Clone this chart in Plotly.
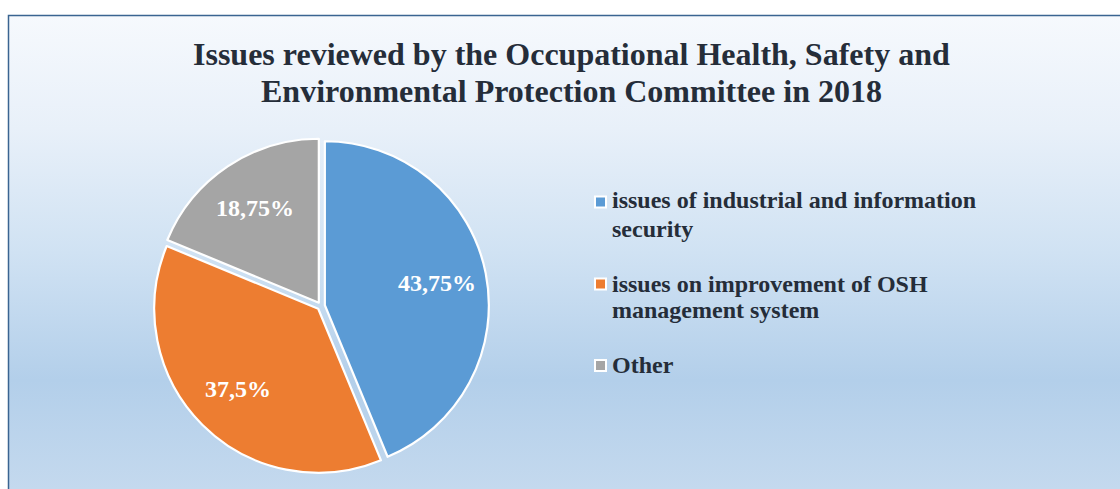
import base64
import math
import plotly.graph_objects as go

# ---------------- data ----------------
categories = [
    "issues of industrial and information security",
    "issues on improvement of OSH management system",
    "Other",
]
legend_lines = [
    ["issues of industrial and information", "security"],
    ["issues on improvement of OSH", "management system"],
    ["Other"],
]
values = [43.75, 37.5, 18.75]
colors = ["#5B9BD5", "#ED7D31", "#A5A5A5"]
title_lines = [
    "Issues reviewed by the Occupational Health, Safety and",
    "Environmental Protection Committee in 2018",
]

W, H = 1120, 489
TXT = "#252D39"
FONT = "Liberation Serif"


def px(x):
    return x / W


def py(y):
    return 1 - y / H


# pie geometry (pixels)
cx, cy, R = 321, 306, 164
pull = 0.024
half = R * (1 + pull)

fig = go.Figure()
fig.add_trace(
    go.Pie(
        labels=categories,
        values=values,
        sort=False,
        direction="clockwise",
        rotation=0,
        pull=pull,
        marker=dict(colors=colors, line=dict(color="white", width=2.2)),
        textinfo="none",
        hoverinfo="label+percent",
        showlegend=False,
        domain=dict(x=[px(cx - half), px(cx + half)], y=[py(cy + half), py(cy - half)]),
    )
)

# background gradient (Excel-like light gradient)
svg = (
    '<svg xmlns="http://www.w3.org/2000/svg" width="100" height="100" preserveAspectRatio="none">'
    '<defs><linearGradient id="g" x1="0" y1="0" x2="0" y2="1">'
    '<stop offset="0" stop-color="#F6F9FD"/>'
    '<stop offset="0.24" stop-color="#E8F0F9"/>'
    '<stop offset="0.50" stop-color="#D0E2F3"/>'
    '<stop offset="0.77" stop-color="#B3CFEA"/>'
    '<stop offset="1" stop-color="#C4D9EE"/>'
    '</linearGradient></defs>'
    '<rect x="0" y="0" width="100" height="100" fill="url(#g)"/></svg>'
)
src = "data:image/svg+xml;base64," + base64.b64encode(svg.encode()).decode()
fig.add_layout_image(
    dict(
        source=src,
        xref="paper",
        yref="paper",
        x=px(8.5),
        y=py(15.5),
        sizex=px(W + 20) - px(8.5),
        sizey=py(15.5) - py(H),
        sizing="stretch",
        xanchor="left",
        yanchor="top",
        layer="below",
    )
)

shapes = [
    dict(
        type="rect",
        xref="paper",
        yref="paper",
        x0=px(8.5),
        y0=py(15.5),
        x1=px(W + 20),
        y1=py(H + 20),
        line=dict(color="#3A6491", width=1.5),
        fillcolor="rgba(0,0,0,0)",
        layer="below",
    )
]

annotations = []
# title
for yy, line in zip([54.2, 90.9], title_lines):
    annotations.append(
        dict(
            text=f"<b>{line}</b>",
            x=px(571),
            y=py(yy),
            xref="paper",
            yref="paper",
            xanchor="center",
            yanchor="middle",
            showarrow=False,
            font=dict(family=FONT, size=32, color=TXT),
        )
    )

# data labels inside slices
total = sum(values)
cum = 0.0
label_r = 118
for v in values:
    mid = (cum + v / 2) / total * 2 * math.pi
    cum += v
    lx = cx + label_r * math.sin(mid)
    ly = cy - label_r * math.cos(mid)
    txt = f"{v:g}".replace(".", ",") + "%"
    annotations.append(
        dict(
            text=f"<b>{txt}</b>",
            x=px(lx),
            y=py(ly),
            xref="paper",
            yref="paper",
            xanchor="center",
            yanchor="middle",
            showarrow=False,
            font=dict(family=FONT, size=24, color="white"),
        )
    )

# legend (manual)
marker_centers = [202, 284, 365.5]
line_centers = [[200, 228.6], [283.6, 310.2], [365.2]]
for col, mc, lines, lcs in zip(colors, marker_centers, legend_lines, line_centers):
    shapes.append(
        dict(
            type="rect",
            xref="paper",
            yref="paper",
            x0=px(595),
            x1=px(606),
            y0=py(mc + 5.5),
            y1=py(mc - 5.5),
            fillcolor=col,
            line=dict(color="white", width=2),
        )
    )
    for t, yy in zip(lines, lcs):
        annotations.append(
            dict(
                text=f"<b>{t}</b>",
                x=px(610),
                y=py(yy),
                xref="paper",
                yref="paper",
                xanchor="left",
                yanchor="middle",
                showarrow=False,
                font=dict(family=FONT, size=24, color=TXT),
            )
        )

fig.update_layout(
    width=W,
    height=H,
    margin=dict(l=0, r=0, t=0, b=0),
    paper_bgcolor="white",
    plot_bgcolor="rgba(0,0,0,0)",
    shapes=shapes,
    annotations=annotations,
    showlegend=False,
)

fig.write_html("out.html")
